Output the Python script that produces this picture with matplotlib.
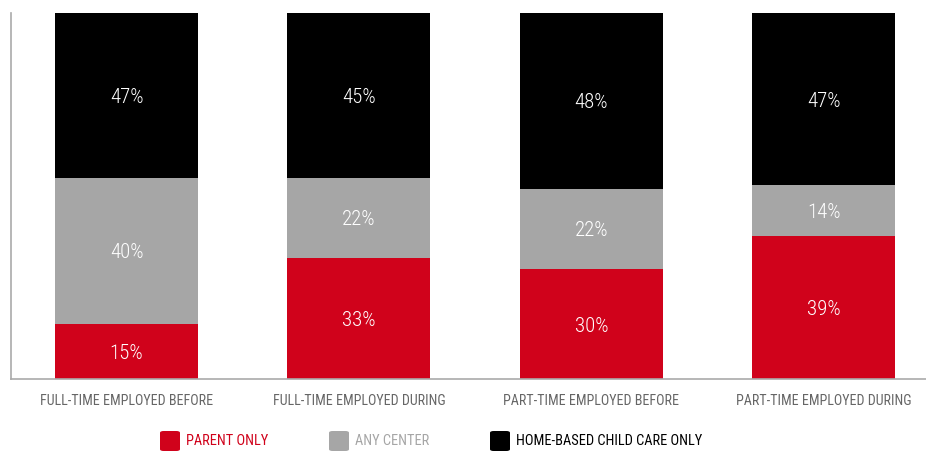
import matplotlib.pyplot as plt
import numpy as np
from matplotlib.patches import FancyBboxPatch
from matplotlib import font_manager

# shares of child care arrangements by employment status
groups = ['FULL-TIME EMPLOYED BEFORE', 'FULL-TIME EMPLOYED DURING',
          'PART-TIME EMPLOYED BEFORE', 'PART-TIME EMPLOYED DURING']
parent_only = [15, 33, 30, 39]
any_center = [40, 22, 22, 14]
home_based = [47, 45, 48, 47]

series_names = ['PARENT ONLY', 'ANY CENTER', 'HOME-BASED CHILD CARE ONLY']
colors = ['#d0021b', '#a6a6a6', '#000000']
text_colors = ['#d0021b', '#a6a6a6', '#000000']

names = {f.name for f in font_manager.fontManager.ttflist}
family = ['Roboto Condensed', 'Liberation Sans Narrow', 'DejaVu Sans']
family = [f for f in family if f in names] or ['DejaVu Sans']
plt.rcParams['font.family'] = family

fig = plt.figure(figsize=(9.26, 4.53), dpi=100)
ax = fig.add_axes([11 / 926, 74 / 453, 915 / 926, 366 / 453])

x = np.arange(len(groups))
w = 0.615
bottom = np.zeros(len(groups))
for vals, c in zip([parent_only, any_center, home_based], colors):
    vals = np.array(vals, dtype=float)
    ax.bar(x, vals, w, bottom=bottom, color=c, linewidth=0)
    for xi, b, v in zip(x, bottom, vals):
        top = min(b + v, 100)
        ax.text(xi, (b + top) / 2, f'{int(v)}%', ha='center',
                va='center_baseline', color='white', fontsize=15,
                fontweight='light')
    bottom += vals

ax.set_xlim(-0.497, 3.44)
ax.set_ylim(0, 100)
ax.set_yticks([])
ax.set_xticks(x)
ax.set_xticklabels(groups, fontsize=10.1, color='#666666')
ax.tick_params(axis='x', length=0, pad=11)
for s in ['top', 'right']:
    ax.spines[s].set_visible(False)
for s in ['left', 'bottom']:
    ax.spines[s].set_color('#aaaaaa')
    ax.spines[s].set_linewidth(1.2)

# legend with rounded swatches
leg_x = [160, 329, 490]
leg_y = 441
for lx, name, c, tc in zip(leg_x, series_names, colors, text_colors):
    fig.patches.append(FancyBboxPatch((lx / 926, (453 - leg_y - 10) / 453),
                                      20 / 926, 20 / 453,
                                      boxstyle='round,pad=0,rounding_size=0.004',
                                      transform=fig.transFigure,
                                      facecolor=c, edgecolor='none'))
    fig.text((lx + 26) / 926, (453 - leg_y) / 453, name, color=tc,
             fontsize=10.4, va='center', ha='left')

fig.savefig('out.png', dpi=100)
